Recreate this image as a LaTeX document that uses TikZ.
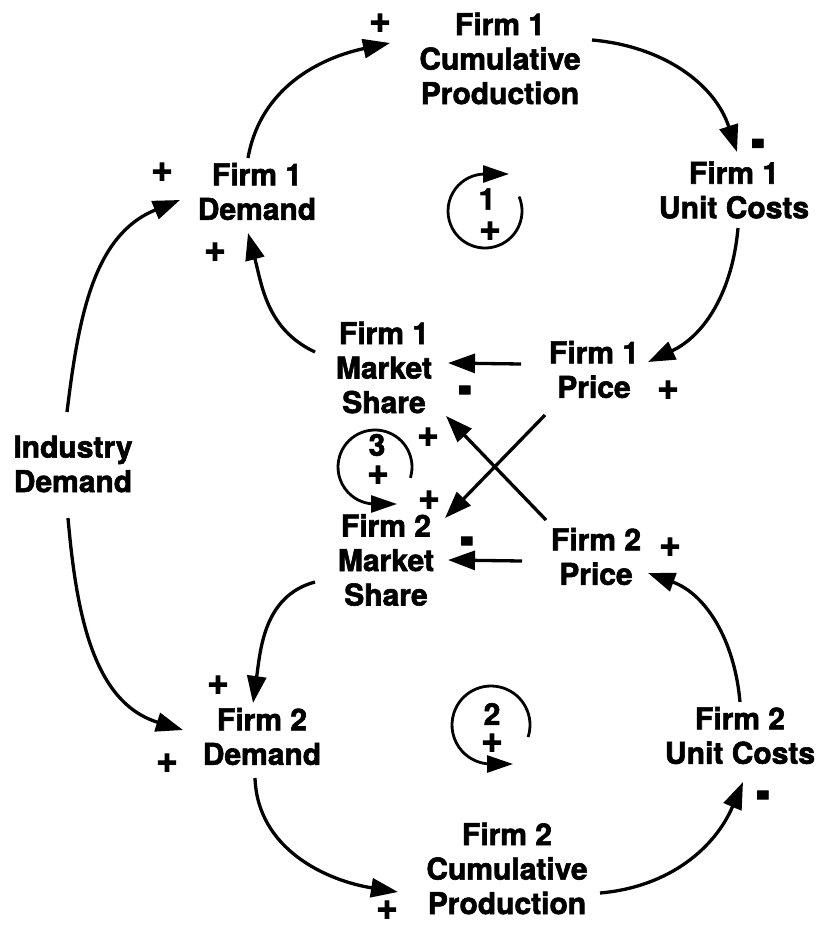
\documentclass[tikz,border=0pt]{standalone}
\usepackage{fontspec}
\usepackage{graphicx}
\setmainfont{TeX Gyre Heros}[BoldFeatures={FakeBold=2}]
\usetikzlibrary{arrows.meta}
\begin{document}
\begin{tikzpicture}[x=1pt,y=1pt,
  var/.style={font=\bfseries\fontsize{30}{34.5}\selectfont, align=center, inner sep=0pt},
  num/.style={font=\bfseries\fontsize{30}{30}\selectfont, inner sep=0pt},
  sgn/.style={font=\bfseries\fontsize{38}{38}\selectfont, inner sep=0pt},
  neg/.style={font=\bfseries\fontsize{38}{38}\selectfont, inner sep=0pt, anchor=base},
  link/.style={line width=3.3pt, -{Triangle[length=27pt,width=19pt]}},
  loopar/.style={line width=2.8pt, -{Triangle[length=26pt,width=17pt]}}]
\useasboundingbox (0,0) rectangle (818,-926);
% variables
\node[var] (f1cp) at (500,-58.5) {Firm 1\\Cumulative\\Production};
\node[var] (f1d)  at (257,-191.5) {Firm 1\\Demand};
\node[var] (f1uc) at (734,-190) {Firm 1\\Unit Costs};
\node[var] (f1ms) at (384,-367.5) {Firm 1\\Market\\Share};
\node[var] (f1p)  at (594,-369.5) {Firm 1\\Price};
\node[var] (f2ms) at (386,-560) {Firm 2\\Market\\Share};
\node[var] (f2p)  at (596,-556.5) {Firm 2\\Price};
\node[var] (ind)  at (73,-464) {Industry\\Demand};
\node[var] (f2d)  at (262,-736.5) {Firm 2\\Demand};
\node[var] (f2uc) at (740,-735.5) {Firm 2\\Unit Costs};
\node[var] (f2cp) at (507,-868.5) {Firm 2\\Cumulative\\Production};
% links
\draw[link] ([shift={(-9,33.5)}]f1d.center) to[out=80,in=192] ([shift={(-110,15.5)}]f1cp.center);
\draw[link] ([shift={(92,18.5)}]f1cp.center) to[out=-5,in=108] ([shift={(3,38)}]f1uc.center);
\draw[link] ([shift={(4,-38)}]f1uc.center) to[out=-95,in=25] ([shift={(54,7.5)}]f1p.center);
\draw[link] ([shift={(-73,5.5)}]f1p.center) -- ([shift={(64,4.5)}]f1ms.center);
\draw[link] ([shift={(-49,-45.5)}]f1p.center) -- ([shift={(59,42)}]f2ms.center);
\draw[link] ([shift={(-50,36.5)}]f2p.center) -- ([shift={(62,-48.5)}]f1ms.center);
\draw[link] ([shift={(-74,-4.5)}]f2p.center) -- ([shift={(62,0)}]f2ms.center);
\draw[link] ([shift={(-69,15.5)}]f1ms.center) to[out=155,in=-75] ([shift={(-9,-41.5)}]f1d.center);
\draw[link] ([shift={(-6,52)}]ind.center) to[out=83,in=202] ([shift={(-77,-8.5)}]f1d.center);
\draw[link] ([shift={(-5,-54)}]ind.center) to[out=-85,in=163] ([shift={(-79,6.5)}]f2d.center);
\draw[link] ([shift={(-71,-22)}]f2ms.center) to[out=195,in=82] ([shift={(-9,33.5)}]f2d.center);
\draw[link] ([shift={(-7,-41.5)}]f2d.center) to[out=-88,in=171] ([shift={(-109,-23.5)}]f2cp.center);
\draw[link] ([shift={(93,-24.5)}]f2cp.center) to[out=5,in=247] ([shift={(3,-46.5)}]f2uc.center);
\draw[link] ([shift={(0,33.5)}]f2uc.center) to[out=95,in=-20] ([shift={(52,-16.5)}]f2p.center);
% loops
\coordinate (l1) at (485,-211);
\coordinate (l3) at (375,-467);
\coordinate (l2) at (491,-725);
\draw[loopar] ([shift={(23:37pt)}]l1) arc[start angle=23, end angle=-270, radius=37pt] -- ++(24,0);
\draw[loopar] ([shift={(-17:37pt)}]l3) arc[start angle=-17, end angle=270, radius=37pt] -- ++(22,0);
\draw[loopar] ([shift={(-18:39pt)}]l2) arc[start angle=-18, end angle=270, radius=39pt] -- ++(22,0);
\node[num] (l1n) at (487,-199) {1};
\node[sgn] (l1s) at (490,-231) {+};
\node[num] (l3n) at (377,-445) {3};
\node[sgn] (l3s) at (378,-475) {+};
\node[num] (l2n) at (492,-714) {2};
\node[sgn] (l2s) at (492,-743) {+};
% polarities
\node[sgn] (p1) at (380,-23) {+};
\node[sgn] (p2) at (162,-172) {+};
\node[sgn] (p3) at (215,-252) {+};
\node[sgn] (p4) at (668,-390) {+};
\node[sgn] (p5) at (428,-437) {+};
\node[sgn] (p6) at (429,-500) {+};
\node[sgn] (p7) at (670,-547) {+};
\node[sgn] (p8) at (218,-685) {+};
\node[sgn] (p9) at (167,-763) {+};
\node[sgn] (p10) at (387,-910) {+};
\node[neg] (m1) at (758,-160) {\scalebox{1.05}[1.6]{-}};
\node[neg] (m2) at (465,-406.7) {\scalebox{1.05}[1.6]{-}};
\node[neg] (m3) at (467,-557.7) {\scalebox{1.05}[1.6]{-}};
\node[neg] (m4) at (763,-811.7) {\scalebox{1.05}[1.6]{-}};
\end{tikzpicture}
\end{document}
